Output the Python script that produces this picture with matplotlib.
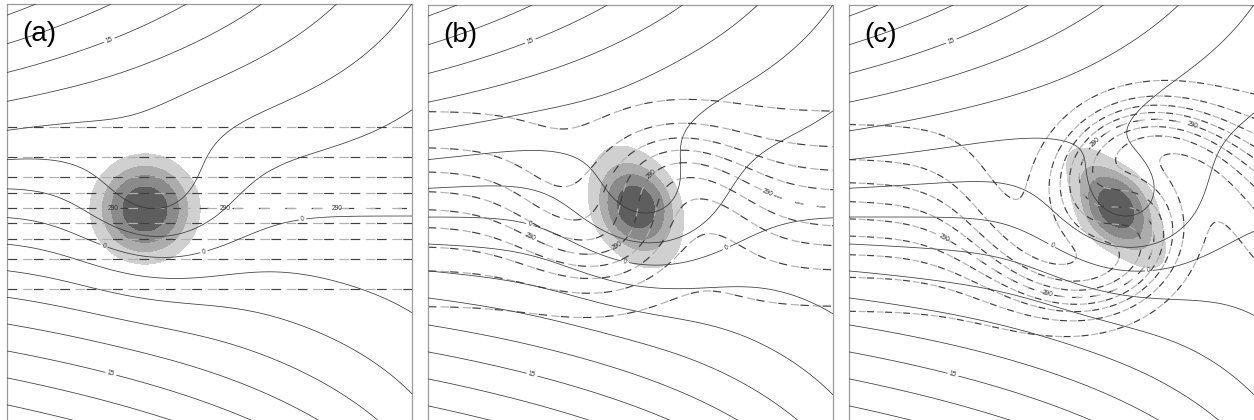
import numpy as np
import matplotlib
matplotlib.use("Agg")
import matplotlib.pyplot as plt

plt.rcParams['lines.scale_dashes'] = False
plt.rcParams['font.family'] = ['Liberation Sans', 'DejaVu Sans']

# panel size in pixels (the bottom edge is cut off by the figure)
W, H = 405, 430

panel_names = ["(a)", "(b)", "(c)"]
panel_left = [7, 428, 849]
panel_top = [4, 5, 5]

# shaded vortex anomaly (panel pixel coords): half round core, half ellipse
vort_x = [138, 208, 267]
vort_y = [205, 202, 203]
vort_a = [40, 58, 65]
vort_b = [40, 35, 26]
vort_core = [40, 30, 30]
vort_tilt = [0, 25, 37]          # degrees from vertical, top leaning left
shade_levels = [0.15, 0.32, 0.5, 0.74, 1.01]
shade_colors = ['#d0d0d0', '#acacac', '#8a8a8a', '#5e5e5e']

# solid contours: diffluent background flow + bump over the vortex
axis_y = 212
xs_top = 555
xs_curv = 0.008
bottom_scale = 0.94
step = 28.7
solid_steps = np.arange(-20, 21)
labelled_steps = [-5, 0, 5]
bump_amp = [52, 55, 57]
bump_x = [148, 218, 277]
bump_y = [205, 207, 208]
bump_rx = [80, 80, 80]
bump_ry = [70, 70, 70]

# dashed contours: potential temperature
theta_mid = 290
theta_amp = 5
theta_y0 = 204
theta_w = 74
theta_levels = [286, 287, 288, 289, 290, 291, 292, 293, 294]
swirl = [0.0, 1.4, 3.0]
swirl_r = [80, 85, 95]
swirl_far = [0.0, 0.0, 0.15]
swirl_far_r = 150
stretch = [1.0, 1.2, 1.15]
dash_len = [7, 6, 5]

solid_labels = [
    [(103, 38), (96, 245), (196, 244), (295, 212), (103, 373)],
    [(103, 38), (102, 219), (197, 258), (297, 240), (103, 373)],
    [(103, 38), (202, 242), (300, 268), (103, 373)],
]
dashed_labels = [
    [(106, 205), (218, 205), (330, 205)],
    [(105, 227), (337, 192), (200, 258), (210, 155)],
    [(104, 215), (335, 147), (237, 128), (204, 265)],
]

xg = np.arange(0, W + 1.0)
yg = np.arange(0, H + 1.0)
X, Y = np.meshgrid(xg, yg)


def background_psi():
    o = np.linspace(-420, 420, 2101)
    xs = np.where(o >= 0, xs_top, xs_top + xs_curv * o**2)
    sc = np.where(o >= 0, 1.0, bottom_scale)
    psi = np.empty_like(X)
    for j, x in enumerate(xg):
        yy = axis_y - o * sc * xs / (xs - x)
        psi[:, j] = np.interp(yg, yy[::-1], o[::-1])
    return psi


def vortex_field(k):
    t = np.deg2rad(vort_tilt[k])
    dx, dy = X - vort_x[k], Y - vort_y[k]
    along = dx * np.sin(t) + dy * np.cos(t)
    across = dx * np.cos(t) - dy * np.sin(t)
    ell = np.exp(-(along / vort_a[k])**2 - (across / vort_b[k])**2)
    core = np.exp(-(dx**2 + dy**2) / vort_core[k]**2)
    return 0.5 * ell + 0.5 * core


def theta_field(k):
    cx, cy = vort_x[k], vort_y[k]
    dx, dy = X - cx, Y - cy
    r2 = dx**2 + dy**2
    w = (swirl[k] * np.exp(-r2 / swirl_r[k]**2)
         + swirl_far[k] * swirl_far_r**2 / (r2 + swirl_far_r**2))
    dy0 = dx * np.sin(w) + dy * np.cos(w)
    y0 = theta_y0 + (cy + dy0 - theta_y0) / stretch[k]
    return theta_mid + theta_amp * np.tanh((y0 - theta_y0) / theta_w)


psi_bg = background_psi()
plain_levels = [step * n for n in solid_steps if n not in labelled_steps]
label_levels = [step * n for n in labelled_steps]
theta_plain = [v for v in theta_levels if v != theta_mid]

fig = plt.figure(figsize=(12.54, 4.2), dpi=100)

for k in range(3):
    ax = fig.add_axes([panel_left[k] / 1254, (420 - panel_top[k] - H) / 420,
                       W / 1254, H / 420])
    ax.set_xlim(0, W)
    ax.set_ylim(H, 0)
    ax.set_xticks([])
    ax.set_yticks([])
    for side in ax.spines:
        ax.spines[side].set_color('#9a9a9a')
        ax.spines[side].set_linewidth(0.9)
    ax.spines['bottom'].set_visible(False)
    if k == 2:
        ax.spines['right'].set_visible(False)

    q = vortex_field(k)
    ax.contourf(X, Y, q, levels=shade_levels, colors=shade_colors, zorder=1)

    psi = psi_bg + bump_amp[k] * np.exp(-((X - bump_x[k]) / bump_rx[k])**2
                                        - ((Y - bump_y[k]) / bump_ry[k])**2)
    solid_kw = dict(colors='#3a3a3a', linewidths=0.55, linestyles='solid', zorder=3)
    ax.contour(X, Y, psi, levels=plain_levels, **solid_kw)
    cs = ax.contour(X, Y, psi, levels=label_levels, **solid_kw)
    ax.clabel(cs, manual=solid_labels[k], inline=True, inline_spacing=2,
              fontsize=4.8, colors='#333333',
              fmt=lambda v: str(abs(int(round(v / step * 3)))))

    th = theta_field(k)
    d = dash_len[k]
    dark_kw = dict(colors='#404040', linewidths=0.85,
                   linestyles=[(0, (d, 2 * d - 2))], zorder=2)
    light_kw = dict(colors='#b0b0b0', linewidths=0.85,
                    linestyles=[(d + 1, (d, 2 * d - 2))], zorder=2)
    ax.contour(X, Y, th, levels=theta_plain, **dark_kw)
    ax.contour(X, Y, th, levels=theta_plain, **light_kw)
    cd = ax.contour(X, Y, th, levels=[theta_mid], **dark_kw)
    ax.clabel(cd, manual=dashed_labels[k], inline=True, inline_spacing=2,
              fontsize=4.8, colors='#333333', fmt=lambda v: f"{v:.0f}")
    ax.contour(X, Y, th, levels=[theta_mid], **light_kw)

    ax.text(15, 17, panel_names[k], fontsize=20, ha='left', va='top',
            color='black', zorder=5)

fig.savefig("out.png", dpi=100)
